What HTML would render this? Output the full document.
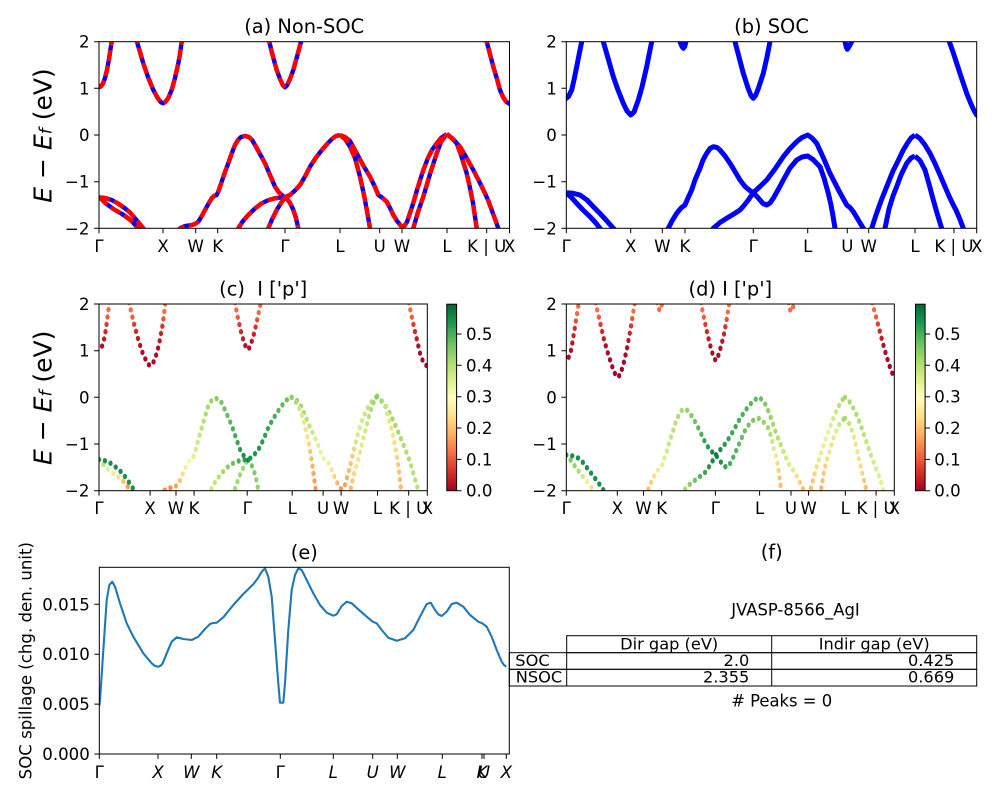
<!DOCTYPE html>
<html><head><meta charset="utf-8"><style>
html,body{margin:0;padding:0;background:#fff;overflow:hidden;}
svg{display:block;}
text{font-family:"DejaVu Sans","Liberation Sans",sans-serif;fill:#000;}
</style></head><body>
<svg width="1000" height="800" viewBox="0 0 1000 800" xmlns="http://www.w3.org/2000/svg">
<rect width="1000" height="800" fill="#fff"/>
<defs>
<clipPath id="cA"><rect x="99" y="41.7" width="410.5" height="186.6"/></clipPath>
<clipPath id="cB"><rect x="566.3" y="41.7" width="410.4" height="186.6"/></clipPath>
<clipPath id="cC"><rect x="99" y="304" width="328.3" height="186.7"/></clipPath>
<clipPath id="cD"><rect x="566.3" y="304" width="328" height="186.7"/></clipPath>
<clipPath id="cE"><rect x="99.3" y="567.3" width="410" height="186.7"/></clipPath>

<!-- Non-SOC bands (frame of panel a) -->
<path id="cb1" d="M97,88 L99,87.3 L101,86.3 L103,83.5 L105,78 L107,70 L109,59 L111,46 L112.5,36"/>
<path id="cbX" d="M135,33 L137,41.7 L140,52 L143.3,63.3 L148,77 L153.3,90 L158,98.5 L161,102.3 L163,103.3 L165,102.3 L168,98.5 L171.7,90 L175,78 L178.3,63.3 L180,54 L181.7,41.7 L183,33"/>
<path id="cbG" d="M267.5,33 L269.3,41.7 L272,53 L276.7,70 L280,79 L283,85.5 L285,87.3 L287,85.5 L290,79 L293.3,70 L298,53 L301,41.7 L303,33"/>
<path id="cbE" d="M484.5,33 L486.7,41.7 L490,54 L493.3,66.7 L497,79 L500,90 L503,97 L506,101.5 L509.5,104 L512,105"/>
<path id="v1" d="M99,197.3 L105,198 L111.7,200 L118,203.5 L125,208.3 L130,212.5 L135,218.3 L139,223 L143.3,228.3 L147,233"/>
<path id="v2" d="M99,197.3 L102,199.5 L105,202.7 L110,206.5 L115,210 L122,214 L128.3,218.3 L133,222.5 L138.3,228.3 L141,232"/>
<path id="v3" d="M176,233 L180,228.3 L185,226 L191.7,225 L195,224 L198.3,221.7 L201.5,216.5 L205,210 L208.3,204 L211.7,198.3 L214,196 L216.7,195 L218.5,191 L221.7,181.7 L225,172 L228.3,163.3 L231.5,154 L235,145 L238,140 L241,137 L245,136 L249,137 L252,140 L255,145 L260,154 L265,163.3 L270,175 L275,186.7 L279,192.5 L283,196 L285,197.3 L287.5,199.5 L290,203 L293,209 L296,218 L298.3,228.3 L299.5,233"/>
<path id="v4" d="M236,233 L238.3,228.3 L243,221 L248.3,215 L255,208.5 L261.7,203.3 L268,200.3 L275,198.3 L280,197.6 L285,197.3 L290,195 L295,190.5 L300,185 L305,176.5 L310,166.7 L316,157.5 L323.3,148.3 L328,143 L332,139 L336,136 L340,135"/>
<path id="v5" d="M266,233 L268.3,228.3 L272,219.5 L276.7,210 L281,203 L285,197.3"/>
<path id="v6" d="M340,135 L345,137 L350,141 L356.7,153.3 L363,165 L370,176.7 L375,187 L378.3,195 L382,197.5 L386.7,201.7 L390,208 L393.3,215 L397,221 L401.7,226.7 L404,226.5 L407,222 L410,213 L413,204 L417,190 L423.3,170 L428,158 L432,150 L436.7,143.3 L441,138 L446.7,134"/>
<path id="v7" d="M340,135 L345,139 L350,146.7 L355,158 L360,176.7 L364,195 L367,211 L370,228.3 L371,233"/>
<path id="v8" d="M412,233 L413.3,228.3 L418,212 L423.3,196.7 L430,174 L436.7,153.3 L441,142 L446.7,134"/>
<path id="v9" d="M446.7,134 L453,139 L460,146.7 L466.7,158 L473.3,170 L479,181 L485,193.3 L488,200 L491.7,210 L495,219 L498.3,228.3 L500,233"/>
<path id="v10" d="M446.7,134 L451,137.5 L456.7,143.3 L461,155 L466.7,173.3 L470,188 L473,203 L476.7,228.3 L477.5,233"/>

<!-- SOC bands (frame of panel b) -->
<path id="b1" d="M564,100 L566.3,98.3 L568.5,96.5 L571.7,90 L574,80 L576.7,66.7 L579,55 L581.7,41.7 L583,33"/>
<path id="bX" d="M601.5,33 L603.3,41.7 L608,58 L613.3,76.7 L618,90 L623.3,103.3 L627,111 L630.7,115 L634,112 L638.3,100 L642,87 L646.7,66.7 L649,55 L651.7,41.7 L653,33"/>
<path id="bK" d="M678,33 L680,41.7 L682,46.5 L683.3,48.3 L684.7,46.5 L686,41.7 L688,33"/>
<path id="bG" d="M733,33 L735,41.7 L739,57 L743.3,73.3 L748,88 L751,95.5 L753.3,98.3 L755.6,95.5 L758.5,88 L763.3,73.3 L767,57 L770,41.7 L772,33"/>
<path id="bU" d="M843,33 L845,41.7 L846.3,47.3 L847.3,49.3 L848.5,47.5 L851.7,41.7 L853,33"/>
<path id="bE" d="M947.5,33 L949.3,41.7 L953,52 L956.7,63.3 L961.5,78 L966.7,93.3 L971,104 L974,110.5 L976.7,115 L979,117"/>
<path id="bv1" d="M566.3,192.7 L573,193.3 L580,195 L587,200 L593.3,206.7 L600,213.5 L606,220 L613.3,228.3 L617,232"/>
<path id="bv2" d="M566.3,192.7 L571,197 L576.7,203.3 L583,210 L590,216.7 L595,222 L600,228.3 L603,232"/>
<path id="bQ" d="M665,233 L668.3,228.3 L672,221 L676.7,213.3 L681,208 L685,205 L688,198 L691.7,190 L695,180 L700,168.3 L703,160 L706.7,153.3 L710,148.5 L713.3,146.7 L717,147.5 L720,150 L725,156 L730,163.3 L735,171.5 L740,180 L745,186.5 L750,190.7 L753.3,192.7 L757,196.5 L760,200 L763,203.5 L766.7,205 L770,203 L773.3,198.3 L778,190 L783.3,180 L790,168 L796.7,160 L802,157 L807.7,156 L813,159.5 L820,166.7 L824,178 L828.3,193.3 L831,205 L833,216 L835,228.3 L836,233"/>
<path id="bP" d="M711,233 L713.3,228.3 L720,222.5 L726.7,218.3 L733,214.5 L740,210 L744,205.5 L748.3,200 L753.3,192.7 L760,186.5 L766.7,180 L775,169 L783.3,156.7 L790,148.5 L796.7,141.7 L802,137.5 L807.7,135 L812,138 L816.7,143.3 L823,157 L830,173.3 L838,189 L846.7,205 L850,207.5 L853.3,211.7 L858,219.5 L863.3,228.3 L866,233"/>
<path id="bWL" d="M870.5,233 L871.7,228.3 L876,215 L881,201 L886.7,186.7 L893,171 L898,161 L903.3,150 L907.5,143 L911,138 L915,135"/>
<path id="bLi" d="M884,233 L885,228.3 L889,209 L893,196 L896.7,186.7 L901,175 L906.7,163.3 L911,158 L915,156"/>
<path id="bLK" d="M915,135 L920,138.5 L925,145 L930,153.3 L935,163.5 L940,175 L945,186.7 L949,196 L953.3,205 L956,210 L960,219.5 L963.3,228.3 L965,233"/>
<path id="bLo" d="M915,156 L920,160.5 L925,170 L929,184 L933.3,200 L937,213 L941.7,228.3 L943,233"/>

<!-- gradients -->
<linearGradient id="gR" gradientUnits="userSpaceOnUse" x1="0" y1="41.7" x2="0" y2="110">
<stop offset="0" stop-color="#f46d43"/><stop offset="0.14" stop-color="#f46d43"/><stop offset="0.34" stop-color="#d73027"/><stop offset="0.61" stop-color="#b0112a"/><stop offset="1" stop-color="#a50026"/></linearGradient>
<linearGradient id="gc2" gradientUnits="userSpaceOnUse" x1="99" y1="0" x2="141" y2="0">
<stop offset="0" stop-color="#a6d96a"/><stop offset="0.31" stop-color="#e8f59c"/><stop offset="0.6" stop-color="#fee08b"/><stop offset="0.79" stop-color="#fdae61"/><stop offset="1" stop-color="#f46d43"/></linearGradient>
<linearGradient id="gc3" gradientUnits="userSpaceOnUse" x1="176" y1="0" x2="300" y2="0">
<stop offset="0" stop-color="#f88d52"/><stop offset="0.129" stop-color="#f88d52"/><stop offset="0.194" stop-color="#fdc574"/><stop offset="0.274" stop-color="#f7fcb4"/><stop offset="0.339" stop-color="#d9ef8b"/><stop offset="0.435" stop-color="#b5df74"/><stop offset="0.556" stop-color="#8ccd64"/><stop offset="0.694" stop-color="#5fb960"/><stop offset="0.798" stop-color="#2f9e50"/><stop offset="0.879" stop-color="#0f7b3e"/><stop offset="0.911" stop-color="#6cc064"/><stop offset="1" stop-color="#a6d96a"/></linearGradient>
<linearGradient id="gc4" gradientUnits="userSpaceOnUse" x1="236" y1="0" x2="340" y2="0">
<stop offset="0" stop-color="#d9ef8b"/><stop offset="0.183" stop-color="#a6d96a"/><stop offset="0.327" stop-color="#5fb960"/><stop offset="0.452" stop-color="#1a9850"/><stop offset="0.615" stop-color="#1a9850"/><stop offset="0.808" stop-color="#4eb15d"/><stop offset="1" stop-color="#7dc765"/></linearGradient>
<linearGradient id="gc6" gradientUnits="userSpaceOnUse" x1="340" y1="0" x2="447" y2="0">
<stop offset="0" stop-color="#7dc765"/><stop offset="0.14" stop-color="#a6d96a"/><stop offset="0.28" stop-color="#d9ef8b"/><stop offset="0.374" stop-color="#eef8a8"/><stop offset="0.486" stop-color="#fee08b"/><stop offset="0.579" stop-color="#f88d52"/><stop offset="0.673" stop-color="#fdbf6f"/><stop offset="0.794" stop-color="#d9ef8b"/><stop offset="1" stop-color="#a6d96a"/></linearGradient>
<linearGradient id="gc7" gradientUnits="userSpaceOnUse" x1="340" y1="0" x2="371" y2="0">
<stop offset="0" stop-color="#8ccd64"/><stop offset="0.39" stop-color="#d9ef8b"/><stop offset="0.65" stop-color="#fee08b"/><stop offset="0.84" stop-color="#fdae61"/><stop offset="1" stop-color="#f88d52"/></linearGradient>
<linearGradient id="gc8" gradientUnits="userSpaceOnUse" x1="412" y1="0" x2="447" y2="0">
<stop offset="0" stop-color="#fdae61"/><stop offset="0.23" stop-color="#fee08b"/><stop offset="0.51" stop-color="#d9ef8b"/><stop offset="1" stop-color="#8ccd64"/></linearGradient>
<linearGradient id="gc9" gradientUnits="userSpaceOnUse" x1="447" y1="0" x2="500" y2="0">
<stop offset="0" stop-color="#8ccd64"/><stop offset="0.43" stop-color="#a6d96a"/><stop offset="1" stop-color="#c0e37a"/></linearGradient>
<linearGradient id="gc10" gradientUnits="userSpaceOnUse" x1="447" y1="0" x2="478" y2="0">
<stop offset="0" stop-color="#8ccd64"/><stop offset="0.45" stop-color="#d9ef8b"/><stop offset="0.7" stop-color="#fee08b"/><stop offset="1" stop-color="#fdae61"/></linearGradient>
<linearGradient id="gd2" gradientUnits="userSpaceOnUse" x1="566" y1="0" x2="603" y2="0">
<stop offset="0" stop-color="#66bd63"/><stop offset="0.38" stop-color="#a6d96a"/><stop offset="0.7" stop-color="#e6f5a0"/><stop offset="0.9" stop-color="#fee08b"/><stop offset="1" stop-color="#fdae61"/></linearGradient>
<linearGradient id="gdQ" gradientUnits="userSpaceOnUse" x1="665" y1="0" x2="836" y2="0">
<stop offset="0" stop-color="#fdae61"/><stop offset="0.064" stop-color="#fee08b"/><stop offset="0.117" stop-color="#e6f5a0"/><stop offset="0.175" stop-color="#c7e77f"/><stop offset="0.281" stop-color="#a6d96a"/><stop offset="0.38" stop-color="#66bd63"/><stop offset="0.468" stop-color="#1a9850"/><stop offset="0.515" stop-color="#0f7b3e"/><stop offset="0.591" stop-color="#3aa556"/><stop offset="0.702" stop-color="#66bd63"/><stop offset="0.836" stop-color="#8ccd64"/><stop offset="0.906" stop-color="#a6d96a"/><stop offset="0.953" stop-color="#e6f5a0"/><stop offset="1" stop-color="#fdae61"/></linearGradient>
<linearGradient id="gdP" gradientUnits="userSpaceOnUse" x1="711" y1="0" x2="866" y2="0">
<stop offset="0" stop-color="#b5df74"/><stop offset="0.123" stop-color="#66bd63"/><stop offset="0.271" stop-color="#0f7b3e"/><stop offset="0.381" stop-color="#3aa556"/><stop offset="0.51" stop-color="#4eb15d"/><stop offset="0.626" stop-color="#66bd63"/><stop offset="0.735" stop-color="#a6d96a"/><stop offset="0.871" stop-color="#d9ef8b"/><stop offset="0.929" stop-color="#fee08b"/><stop offset="1" stop-color="#fdae61"/></linearGradient>
<linearGradient id="gdWL" gradientUnits="userSpaceOnUse" x1="870" y1="0" x2="915" y2="0">
<stop offset="0" stop-color="#fdae61"/><stop offset="0.22" stop-color="#fee08b"/><stop offset="0.5" stop-color="#e6f5a0"/><stop offset="1" stop-color="#a6d96a"/></linearGradient>
<linearGradient id="gdLi" gradientUnits="userSpaceOnUse" x1="884" y1="0" x2="915" y2="0">
<stop offset="0" stop-color="#fdae61"/><stop offset="0.3" stop-color="#fee08b"/><stop offset="0.68" stop-color="#d9ef8b"/><stop offset="1" stop-color="#a6d96a"/></linearGradient>
<linearGradient id="gdLK" gradientUnits="userSpaceOnUse" x1="915" y1="0" x2="965" y2="0">
<stop offset="0" stop-color="#a6d96a"/><stop offset="0.4" stop-color="#b5df74"/><stop offset="0.8" stop-color="#d9ef8b"/><stop offset="1" stop-color="#e6f5a0"/></linearGradient>
<linearGradient id="gdLo" gradientUnits="userSpaceOnUse" x1="915" y1="0" x2="943" y2="0">
<stop offset="0" stop-color="#a6d96a"/><stop offset="0.36" stop-color="#d9ef8b"/><stop offset="0.71" stop-color="#fee08b"/><stop offset="1" stop-color="#fdae61"/></linearGradient>
<linearGradient id="gCB" x1="0" y1="1" x2="0" y2="0">
<stop offset="0" stop-color="#a50026"/><stop offset="0.1" stop-color="#d73027"/><stop offset="0.2" stop-color="#f46d43"/><stop offset="0.3" stop-color="#fdae61"/><stop offset="0.4" stop-color="#fee08b"/><stop offset="0.5" stop-color="#ffffbf"/><stop offset="0.6" stop-color="#d9ef8b"/><stop offset="0.7" stop-color="#a6d96a"/><stop offset="0.8" stop-color="#66bd63"/><stop offset="0.9" stop-color="#1a9850"/><stop offset="1" stop-color="#006837"/></linearGradient>
</defs>

<!-- ===== Panel (a) ===== -->
<g clip-path="url(#cA)" fill="none" stroke-width="4.4" stroke-linejoin="round">
  <g stroke="#0000ff">
    <use href="#cb1"/><use href="#cbX"/><use href="#cbG"/><use href="#cbE"/>
    <use href="#v1"/><use href="#v2"/><use href="#v3"/><use href="#v4"/><use href="#v5"/>
    <use href="#v6"/><use href="#v7"/><use href="#v8"/><use href="#v9"/><use href="#v10"/>
  </g>
  <g stroke="#ff0000" stroke-dasharray="11 4.5">
    <use href="#cb1"/><use href="#cbX"/><use href="#cbG"/><use href="#cbE"/>
    <use href="#v1"/><use href="#v2"/><use href="#v3"/><use href="#v4"/><use href="#v5"/>
    <use href="#v6"/><use href="#v7"/><use href="#v8"/><use href="#v9"/><use href="#v10"/>
  </g>
</g>
<rect x="99" y="41.7" width="410.5" height="186.6" fill="none" stroke="#000" stroke-width="1"/>
<path stroke="#000" stroke-width="1" d="M99,228.3v4.9M163,228.3v4.9M195.7,228.3v4.9M217.7,228.3v4.9M285,228.3v4.9M340,228.3v4.9M379.7,228.3v4.9M402,228.3v4.9M447,228.3v4.9M486.7,228.3v4.9M509.5,228.3v4.9 M94.1,41.7h4.9M94.1,88.3h4.9M94.1,135h4.9M94.1,181.7h4.9M94.1,228.3h4.9"/>
<g font-size="16.6" text-anchor="middle">
<text x="99" y="251.8">Γ</text><text x="163" y="251.8">X</text><text x="195.7" y="251.8">W</text><text x="217.7" y="251.8">K</text><text x="285" y="251.8">Γ</text><text x="340" y="251.8">L</text><text x="379.7" y="251.8">U</text><text x="402" y="251.8">W</text><text x="447" y="251.8">L</text><text x="486.7" y="251.8">K | U</text><text x="509.5" y="251.8">X</text>
</g>
<g font-size="16.6" text-anchor="end">
<text x="89.5" y="47.7">2</text><text x="89.5" y="94.3">1</text><text x="89.5" y="141">0</text><text x="89.5" y="187.7">−1</text><text x="89.5" y="234.3">−2</text>
</g>
<text x="304.2" y="33" font-size="19.4" text-anchor="middle">(a) Non-SOC</text>
<text transform="translate(42.5 135.5) rotate(-90)" font-size="25" text-anchor="middle" dominant-baseline="central"><tspan font-style="italic">E</tspan> − <tspan font-style="italic">E</tspan><tspan font-style="italic" font-size="17" dy="4">f</tspan><tspan dy="-4"> (eV)</tspan></text>

<!-- ===== Panel (b) ===== -->
<g clip-path="url(#cB)" fill="none" stroke="#0000ff" stroke-width="5" stroke-linejoin="round">
  <use href="#b1"/><use href="#bX"/><use href="#bK"/><use href="#bG"/><use href="#bU"/><use href="#bE"/>
  <use href="#bv1"/><use href="#bv2"/><use href="#bQ"/><use href="#bP"/><use href="#bWL"/><use href="#bLi"/><use href="#bLK"/><use href="#bLo"/>
</g>
<rect x="566.3" y="41.7" width="410.4" height="186.6" fill="none" stroke="#000" stroke-width="1"/>
<path stroke="#000" stroke-width="1" d="M566.3,228.3v4.9M630.7,228.3v4.9M662.3,228.3v4.9M685,228.3v4.9M753.3,228.3v4.9M807.7,228.3v4.9M847.3,228.3v4.9M868.7,228.3v4.9M915,228.3v4.9M954,228.3v4.9M976.7,228.3v4.9 M561.4,41.7h4.9M561.4,88.3h4.9M561.4,135h4.9M561.4,181.7h4.9M561.4,228.3h4.9"/>
<g font-size="16.6" text-anchor="middle">
<text x="566.3" y="251.8">Γ</text><text x="630.7" y="251.8">X</text><text x="662.3" y="251.8">W</text><text x="685" y="251.8">K</text><text x="753.3" y="251.8">Γ</text><text x="807.7" y="251.8">L</text><text x="847.3" y="251.8">U</text><text x="868.7" y="251.8">W</text><text x="915" y="251.8">L</text><text x="954" y="251.8">K | U</text><text x="976.7" y="251.8">X</text>
</g>
<g font-size="16.6" text-anchor="end">
<text x="556.8" y="47.7">2</text><text x="556.8" y="94.3">1</text><text x="556.8" y="141">0</text><text x="556.8" y="187.7">−1</text><text x="556.8" y="234.3">−2</text>
</g>
<text x="771.5" y="33" font-size="19.4" text-anchor="middle">(b) SOC</text>

<!-- ===== Panel (c) ===== -->
<g clip-path="url(#cC)">
 <g transform="matrix(0.7998 0 0 1 19.82 262.3)" fill="none" stroke-width="5.4" stroke-linecap="round" stroke-dasharray="0 7.5">
  <use href="#cb1" stroke="url(#gR)"/><use href="#cbX" stroke="url(#gR)"/><use href="#cbG" stroke="url(#gR)"/><use href="#cbE" stroke="url(#gR)"/>
  <use href="#v2" stroke="url(#gc2)"/>
  <use href="#v1" stroke="#1a8f4a"/>
  <use href="#v5" stroke="#a6d96a"/>
  <use href="#v3" stroke="url(#gc3)"/>
  <use href="#v4" stroke="url(#gc4)"/>
  <use href="#v6" stroke="url(#gc6)"/>
  <use href="#v7" stroke="url(#gc7)"/>
  <use href="#v8" stroke="url(#gc8)"/>
  <use href="#v9" stroke="url(#gc9)"/>
  <use href="#v10" stroke="url(#gc10)"/>
 </g>
</g>
<rect x="99" y="304" width="328.3" height="186.7" fill="none" stroke="#000" stroke-width="1"/>
<path stroke="#000" stroke-width="1" d="M99,490.7v4.9M150.1,490.7v4.9M176,490.7v4.9M194.1,490.7v4.9M247.2,490.7v4.9M292.2,490.7v4.9M323.1,490.7v4.9M341.1,490.7v4.9M377.5,490.7v4.9M408.7,490.7v4.9M427.3,490.7v4.9 M94.1,304h4.9M94.1,350.7h4.9M94.1,397.3h4.9M94.1,444h4.9M94.1,490.7h4.9"/>
<g font-size="16.6" text-anchor="middle">
<text x="99" y="514.2">Γ</text><text x="150.1" y="514.2">X</text><text x="176" y="514.2">W</text><text x="194.1" y="514.2">K</text><text x="247.2" y="514.2">Γ</text><text x="292.2" y="514.2">L</text><text x="323.1" y="514.2">U</text><text x="341.1" y="514.2">W</text><text x="377.5" y="514.2">L</text><text x="408.7" y="514.2">K | U</text><text x="427.3" y="514.2">X</text>
</g>
<g font-size="16.6" text-anchor="end">
<text x="89.5" y="310">2</text><text x="89.5" y="356.7">1</text><text x="89.5" y="403.3">0</text><text x="89.5" y="450">−1</text><text x="89.5" y="496.7">−2</text>
</g>
<text x="263.2" y="295.5" font-size="19.4" text-anchor="middle">(c)&#160; I ['p']</text>
<text transform="translate(42.5 397.8) rotate(-90)" font-size="25" text-anchor="middle" dominant-baseline="central"><tspan font-style="italic">E</tspan> − <tspan font-style="italic">E</tspan><tspan font-style="italic" font-size="17" dy="4">f</tspan><tspan dy="-4"> (eV)</tspan></text>
<!-- colorbar c -->
<rect x="446.8" y="304.2" width="9.8" height="186.5" fill="url(#gCB)" stroke="#000" stroke-width="1"/>
<path stroke="#000" stroke-width="1" d="M456.6,490.7h4.9M456.6,459.4h4.9M456.6,428h4.9M456.6,396.7h4.9M456.6,365.3h4.9M456.6,334h4.9"/>
<g font-size="16.6">
<text x="466" y="496.7">0.0</text><text x="466" y="465.4">0.1</text><text x="466" y="434">0.2</text><text x="466" y="402.7">0.3</text><text x="466" y="371.3">0.4</text><text x="466" y="340">0.5</text>
</g>

<!-- ===== Panel (d) ===== -->
<g clip-path="url(#cD)">
 <g transform="matrix(0.7992 0 0 1 113.71 262.3)" fill="none" stroke-width="5.4" stroke-linecap="round" stroke-dasharray="0 7.5">
  <use href="#b1" stroke="url(#gR)"/><use href="#bX" stroke="url(#gR)"/><use href="#bK" stroke="url(#gR)"/><use href="#bG" stroke="url(#gR)"/><use href="#bU" stroke="url(#gR)"/><use href="#bE" stroke="url(#gR)"/>
  <use href="#bv2" stroke="url(#gd2)"/>
  <use href="#bv1" stroke="#17904a"/>
  <use href="#bQ" stroke="url(#gdQ)"/>
  <use href="#bP" stroke="url(#gdP)"/>
  <use href="#bWL" stroke="url(#gdWL)"/>
  <use href="#bLi" stroke="url(#gdLi)"/>
  <use href="#bLK" stroke="url(#gdLK)"/>
  <use href="#bLo" stroke="url(#gdLo)"/>
 </g>
</g>
<rect x="566.3" y="304" width="328" height="186.7" fill="none" stroke="#000" stroke-width="1"/>
<path stroke="#000" stroke-width="1" d="M566.3,490.7v4.9M617.3,490.7v4.9M643.5,490.7v4.9M661.7,490.7v4.9M715.4,490.7v4.9M759.6,490.7v4.9M791,490.7v4.9M808.6,490.7v4.9M845.3,490.7v4.9M876.1,490.7v4.9M894.3,490.7v4.9 M561.4,304h4.9M561.4,350.7h4.9M561.4,397.3h4.9M561.4,444h4.9M561.4,490.7h4.9"/>
<g font-size="16.6" text-anchor="middle">
<text x="566.3" y="514.2">Γ</text><text x="617.3" y="514.2">X</text><text x="643.5" y="514.2">W</text><text x="661.7" y="514.2">K</text><text x="715.4" y="514.2">Γ</text><text x="759.6" y="514.2">L</text><text x="791" y="514.2">U</text><text x="808.6" y="514.2">W</text><text x="845.3" y="514.2">L</text><text x="876.1" y="514.2">K | U</text><text x="894.3" y="514.2">X</text>
</g>
<g font-size="16.6" text-anchor="end">
<text x="556.8" y="310">2</text><text x="556.8" y="356.7">1</text><text x="556.8" y="403.3">0</text><text x="556.8" y="450">−1</text><text x="556.8" y="496.7">−2</text>
</g>
<text x="730.3" y="295.5" font-size="19.4" text-anchor="middle">(d) I ['p']</text>
<!-- colorbar d -->
<rect x="915.5" y="304.2" width="9.6" height="186.5" fill="url(#gCB)" stroke="#000" stroke-width="1"/>
<path stroke="#000" stroke-width="1" d="M925.1,490.7h4.9M925.1,459.4h4.9M925.1,428h4.9M925.1,396.7h4.9M925.1,365.3h4.9M925.1,334h4.9"/>
<g font-size="16.6">
<text x="934.3" y="496.7">0.0</text><text x="934.3" y="465.4">0.1</text><text x="934.3" y="434">0.2</text><text x="934.3" y="402.7">0.3</text><text x="934.3" y="371.3">0.4</text><text x="934.3" y="340">0.5</text>
</g>

<!-- ===== Panel (e) ===== -->
<g clip-path="url(#cE)">
<path fill="none" stroke="#1f77b4" stroke-width="2.1" stroke-linejoin="round" d="M99.3,706 L100,700 L102,670 L104,640 L106.7,600 L109.3,585 L112.3,581.7 L115,586.7 L120,603.3 L126.7,623.3 L133.3,636.7 L143.3,653.3 L151.7,663.3 L155,666 L158.3,666.7 L161,665.5 L162.7,663.3 L166.7,653.3 L171.7,641.7 L176.7,637.3 L183.3,639 L191.7,640 L198.3,636.7 L205,629 L210,624 L213,623 L216.7,622.7 L223.3,617.3 L233.3,605 L243.3,594 L253.3,584.3 L258,578 L261.7,571.7 L265,568.3 L268.3,576.7 L271.7,596.7 L275,640 L278.3,683.3 L280,702.7 L283.3,702.7 L285,683.3 L288.3,630 L291.7,590 L295,575 L298.3,568.3 L301.7,570 L306.7,580 L313.3,593.3 L320,605 L326.7,612.7 L333.3,615.7 L336.7,614.3 L341.7,606 L346.7,601.7 L351.7,603.3 L358.3,609.3 L366.7,616.7 L372.7,621.7 L376.7,623.3 L381.7,630 L388.3,637.7 L396.7,640.7 L405,638.3 L413.3,630 L420,616.7 L426.7,604 L430.7,602.7 L435,610 L438.5,614.5 L441.7,616 L446.7,611.7 L451.7,604 L456.7,602.7 L463.3,606.7 L470,615 L478.3,621.7 L482.3,623.3 L486.7,626.7 L491.7,636.7 L496.7,650 L501.7,661.7 L504,665 L506.3,666.7"/>
</g>
<rect x="99.3" y="567.3" width="410" height="186.7" fill="none" stroke="#000" stroke-width="1"/>
<path stroke="#000" stroke-width="1" d="M99.3,754v4.9M158,754v4.9M191.3,754v4.9M216.7,754v4.9M280.3,754v4.9M333.3,754v4.9M372.7,754v4.9M397.3,754v4.9M442.3,754v4.9M482,754v4.9M484,754v4.9M506.3,754v4.9 M94.4,754h4.9M94.4,704.1h4.9M94.4,654.2h4.9M94.4,604.3h4.9"/>
<g font-size="16.6" text-anchor="middle">
<text x="99.3" y="777.8">Γ</text><text x="280.3" y="777.8">Γ</text>
<g font-style="italic">
<text x="158" y="777.8">X</text><text x="191.3" y="777.8">W</text><text x="216.7" y="777.8">K</text><text x="333.3" y="777.8">L</text><text x="372.7" y="777.8">U</text><text x="397.3" y="777.8">W</text><text x="442.3" y="777.8">L</text><text x="482" y="777.8">K</text><text x="484" y="777.8">U</text><text x="506.3" y="777.8">X</text>
</g></g>
<g font-size="16.6" text-anchor="end">
<text x="89.8" y="760">0.000</text><text x="89.8" y="710.1">0.005</text><text x="89.8" y="660.2">0.010</text><text x="89.8" y="610.3">0.015</text>
</g>
<text x="304.3" y="559" font-size="19.4" text-anchor="middle">(e)</text>
<text transform="translate(26 660.7) rotate(-90)" font-size="16.6" text-anchor="middle" dominant-baseline="central">SOC spillage (chg. den. unit)</text>

<!-- ===== Panel (f) ===== -->
<text x="771.7" y="558.5" font-size="19.4" text-anchor="middle">(f)</text>
<text x="795.5" y="615.5" font-size="16.4" text-anchor="middle">JVASP-8566_AgI</text>
<g fill="none" stroke="#000" stroke-width="1">
<rect x="566.7" y="635.7" width="410" height="17"/>
<line x1="771.7" y1="635.7" x2="771.7" y2="686"/>
<rect x="509.3" y="652.7" width="467.4" height="16.6"/>
<rect x="509.3" y="669.3" width="467.4" height="16.7"/>
<line x1="566.7" y1="652.7" x2="566.7" y2="686"/>
</g>
<g font-size="16.2">
<text x="669.2" y="649.5" text-anchor="middle">Dir gap (eV)</text>
<text x="874.2" y="649.5" text-anchor="middle">Indir gap (eV)</text>
<text x="515.3" y="666">SOC</text>
<text x="515.8" y="682.7">NSOC</text>
<text x="749.3" y="666" text-anchor="end">2.0</text>
<text x="954.3" y="666" text-anchor="end">0.425</text>
<text x="749.3" y="682.7" text-anchor="end">2.355</text>
<text x="954.3" y="682.7" text-anchor="end">0.669</text>
</g>
<text x="781.7" y="706.5" font-size="16.4" text-anchor="middle"># Peaks = 0</text>
</svg>
</body></html>
